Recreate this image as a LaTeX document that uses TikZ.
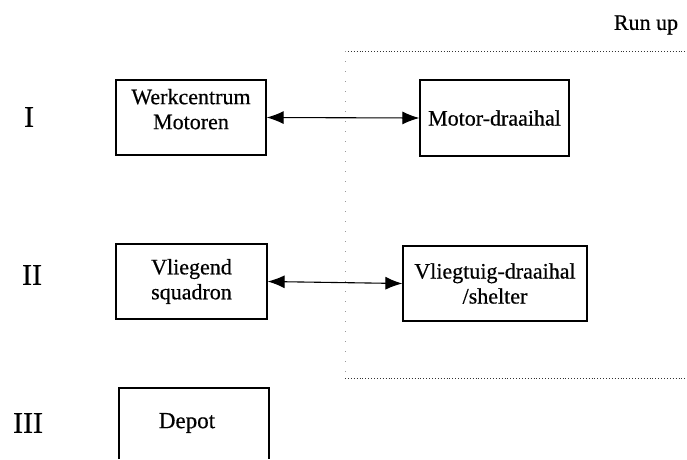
\documentclass[tikz,border=0pt]{standalone}
\usepackage{fontspec}
\setmainfont{Liberation Serif}[FakeBold=0.5]
\usetikzlibrary{arrows.meta}
\begin{document}
\begin{tikzpicture}[x=1pt,y=-1pt,
  boxnode/.style={draw,line width=1.3pt,inner sep=0pt,align=center,
    font=\fontsize{22}{25}\selectfont},
  romannode/.style={font=\fontsize{30}{32}\selectfont,inner sep=0pt},
  link/.style={line width=1.1pt,{Latex[length=17pt,width=13pt]}-{Latex[length=17pt,width=13pt]}},
  zoneline/.style={line width=0.9pt,dotted,black!80},
  zonefaint/.style={line width=0.7pt,dash pattern=on 1pt off 9pt,black!40}]
\useasboundingbox (0,0) rectangle (687,459);
% zone
\coordinate (zTL) at (345,51);
\coordinate (zTR) at (687,51);
\coordinate (zBL) at (345,378);
\coordinate (zBR) at (687,378);
\draw[zoneline] (zTL) -- (zTR);
\draw[zoneline] (zBL) -- (zBR);
\draw[zonefaint] (zTL) -- (zBL);
\node[font=\fontsize{22}{24}\selectfont,inner sep=0pt] (runup) at (646,25) {Run up};
% roman numerals
\node[romannode] (r1) at (29,117) {I};
\node[romannode] (r2) at (32,275) {II};
\node[romannode] (r3) at (28,423) {III};
% boxes
\node[boxnode,minimum width=150pt,minimum height=75pt] (werk) at (191,117.5) {Werkcentrum\\Motoren\\[-8pt]};
\node[boxnode,minimum width=149pt,minimum height=76pt] (motor) at (494.5,118) {Motor-draaihal};
\node[boxnode,minimum width=151pt,minimum height=75pt] (vlieg) at (191.5,281.5) {Vliegend\\squadron};
\node[boxnode,minimum width=184pt,minimum height=75pt] (vtuig) at (495,283.5) {Vliegtuig-draaihal\\/shelter};
% depot (cut off at bottom)
\coordinate (dBL) at (119,459);
\coordinate (dTL) at (119,388);
\coordinate (dTR) at (269,388);
\coordinate (dBR) at (269,459);
\draw[line width=1.3pt] (dBL) -- (dTL) -- (dTR) -- (dBR);
\node[font=\fontsize{23}{26}\selectfont,inner sep=0pt] (depot) at (187,423) {Depot};
% connectors
\draw[link] (werk.east) -- (motor.west);
\draw[link] (vlieg.east) -- (vtuig.west);
\end{tikzpicture}
\end{document}
